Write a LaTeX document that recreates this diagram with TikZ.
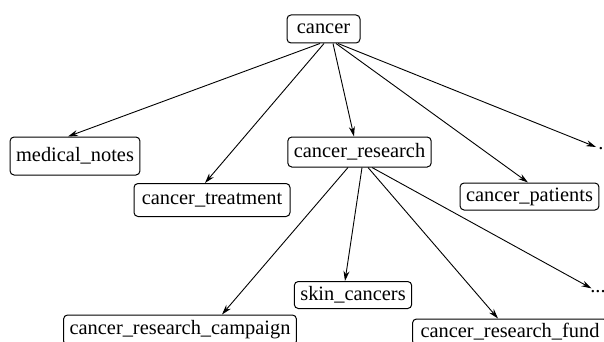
\documentclass[tikz,border=0pt]{standalone}
\usepackage{fontspec}
\setmainfont{Liberation Serif}
\usetikzlibrary{arrows.meta}

\begin{document}
\begin{tikzpicture}[x=0.5pt,y=-0.5pt,
    every node/.style={font=\fontsize{10.2}{12}\selectfont},
    term/.style={draw,rounded corners=2pt,inner xsep=3pt,inner ysep=0pt,minimum height=14pt,line width=0.5pt},
    more/.style={inner sep=1pt},
    link/.style={line width=0.45pt,-{Stealth[length=5pt,width=3pt]}}]

    \useasboundingbox (0,0) rectangle (604,342);

    % --------------------------------------------------------- %
    % ------------- root node
    % --------------------------------------------------------- %
    \node[term,minimum width=36.5pt] (cancer) at (323.5,29) {cancer};

    % --------------------------------------------------------- %
    % ------------- first level
    % --------------------------------------------------------- %
    \node[term,minimum height=19pt] (medical) at (75,156) {medical\_notes};
    \node[term,minimum width=78pt,minimum height=16.5pt] (treatment) at (212,200) {cancer\_treatment};
    \node[term,minimum height=15pt] (research) at (359.5,152) {cancer\_research};
    \node[term,minimum height=13.5pt] (patients) at (529.5,196.5) {cancer\_patients};
    \node[more] (dotA) at (601,149) {.};

    \draw[link] ([xshift=-1.75pt]cancer.south) to ([xshift=-3.5pt]medical.north);
    \draw[link] ([xshift=0.25pt]cancer.south) to ([xshift=-3.5pt]treatment.north);
    \draw[link] ([xshift=4.75pt]cancer.south) to ([xshift=-2.75pt]research.north);
    \draw[link] ([xshift=6.25pt]cancer.south) to ([xshift=-0.75pt]patients.north);
    \draw[link] ([xshift=7.25pt]cancer.south) to (dotA);

    % --------------------------------------------------------- %
    % ------------- second level (under cancer_research)
    % --------------------------------------------------------- %
    \node[term,minimum height=13.5pt] (skin) at (353,295) {skin\_cancers};
    \node[term,minimum height=15pt] (campaign) at (180,330) {cancer\_research\_campaign};
    \node[term,inner xsep=4pt,minimum height=13pt] (fund) at (510,332) {cancer\_research\_fund};
    \node[more] (dotB) at (598,292) {...};

    \draw[link] ([xshift=-5.75pt]research.south) to ([xshift=21pt]campaign.north);
    \draw[link] ([xshift=1.25pt]research.south) to ([xshift=-4pt]skin.north);
    \draw[link] ([xshift=4.25pt]research.south) to ([xshift=-6pt]fund.north);
    \draw[link] ([xshift=6.25pt]research.south) to (dotB);

  \end{tikzpicture}
\end{document}
